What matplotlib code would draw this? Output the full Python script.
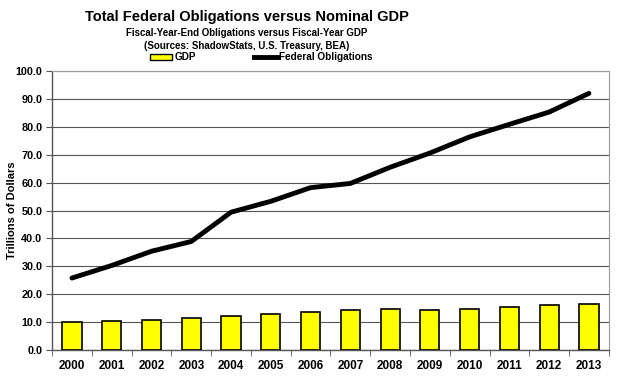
import matplotlib.pyplot as plt
import numpy as np
from matplotlib.patches import Rectangle
from matplotlib.lines import Line2D

plt.rcParams['font.family'] = ['Liberation Sans', 'DejaVu Sans']

# Data (trillions of dollars)
years = ['2000', '2001', '2002', '2003', '2004', '2005', '2006',
         '2007', '2008', '2009', '2010', '2011', '2012', '2013']
gdp = [10.1, 10.5, 10.8, 11.3, 12.1, 12.8, 13.6,
       14.3, 14.8, 14.4, 14.8, 15.3, 16.0, 16.5]
obligations = [25.8, 30.3, 35.4, 38.9, 49.4, 53.3, 58.2,
               59.7, 65.5, 70.6, 76.4, 80.9, 85.3, 92.0]

fig = plt.figure(figsize=(6.2, 3.77), dpi=100)
ax = fig.add_axes([0.084, 0.0716, 0.898, 0.740])

x = np.arange(len(years))
ax.bar(x, gdp, width=0.48, color='#ffff00', edgecolor='black', linewidth=1.2, zorder=3)
ax.plot(x, obligations, color='black', linewidth=3.5, solid_capstyle='round', zorder=4)

ax.set_xlim(-0.5, len(years) - 0.5)
ax.set_ylim(0, 100)
ax.set_yticks(np.arange(0, 101, 10))
ax.set_yticklabels(['%.1f' % v for v in np.arange(0, 101, 10)], fontsize=7.8, fontweight='bold')
ax.set_xticks(x)
ax.set_xticklabels(years, fontsize=8.5, fontweight='bold')
ax.set_xticks(np.arange(-0.5, len(years), 1), minor=True)
ax.tick_params(axis='x', which='major', length=0, pad=7)
ax.tick_params(axis='x', which='minor', length=4, color='#555555')
ax.tick_params(axis='y', length=4, color='#555555', pad=3)
ax.yaxis.grid(True, color='#555555', linewidth=0.8, zorder=0)
ax.set_axisbelow(True)
for side in ['top', 'right']:
    ax.spines[side].set_color('#999999')
for side in ['left', 'bottom']:
    ax.spines[side].set_color('#555555')
    ax.spines[side].set_linewidth(1.0)

# y axis title placed directly so it stays inside the figure
fig.text(12 / 620, 1 - 210 / 377, 'Trillions of Dollars', rotation=90,
         ha='center', va='center', fontsize=8, fontweight='bold')

# Titles
fig.text(0.398, 0.955, 'Total Federal Obligations versus Nominal GDP',
         ha='center', va='center', fontsize=10.5, fontweight='bold')
fig.text(0.398, 0.912, 'Fiscal-Year-End Obligations versus Fiscal-Year GDP',
         ha='center', va='center', fontsize=7.0, fontweight='bold')
fig.text(0.398, 0.878, '(Sources: ShadowStats, U.S. Treasury, BEA)',
         ha='center', va='center', fontsize=7.0, fontweight='bold')

# Legend
fig.patches.append(Rectangle((150 / 620, 1 - 60 / 377), 22 / 620, 6 / 377,
                             transform=fig.transFigure, facecolor='#ffff00',
                             edgecolor='black', linewidth=1.0))
fig.text(175 / 620, 1 - 57 / 377, 'GDP', ha='left', va='center', fontsize=7.2, fontweight='bold')
fig.lines.append(Line2D([254 / 620, 278 / 620], [1 - 57 / 377, 1 - 57 / 377],
                        transform=fig.transFigure, color='black', linewidth=3.5))
fig.text(279 / 620, 1 - 57 / 377, 'Federal Obligations', ha='left', va='center',
         fontsize=7.2, fontweight='bold')

fig.savefig('out.png', dpi=100)
